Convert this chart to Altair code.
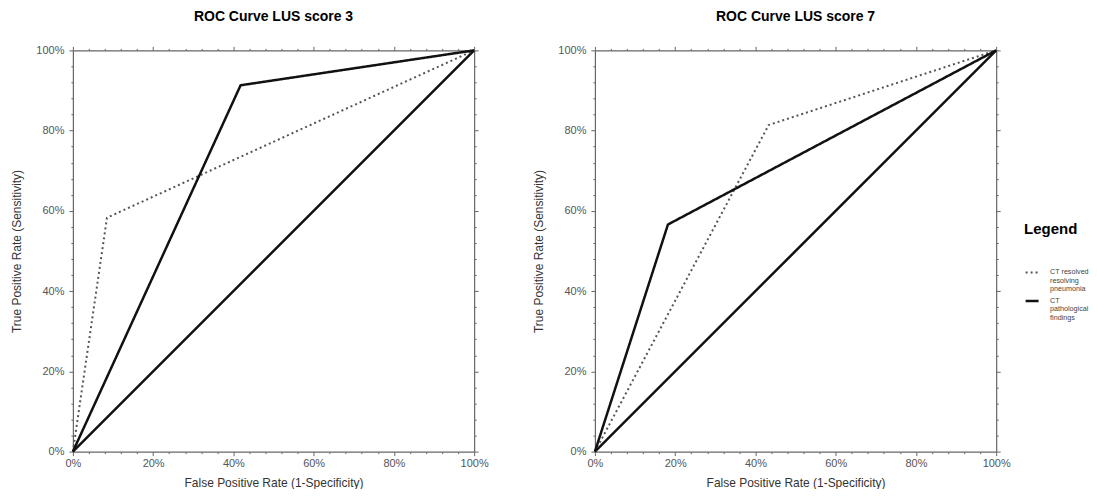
import altair as alt
import pandas as pd

# ---- data ----
panel_titles = ["ROC Curve LUS score 3", "ROC Curve LUS score 7"]
series_names = ["CT resolved resolving pneumonia", "CT pathological findings"]

# LUS score 3
fpr_ls3_resolved = [0.0, 0.085, 1.0]
tpr_ls3_resolved = [0.0, 0.583, 1.0]
fpr_ls3_path = [0.0, 0.418, 1.0]
tpr_ls3_path = [0.0, 0.913, 1.0]
# LUS score 7
fpr_ls7_resolved = [0.0, 0.433, 1.0]
tpr_ls7_resolved = [0.0, 0.814, 1.0]
fpr_ls7_path = [0.0, 0.182, 1.0]
tpr_ls7_path = [0.0, 0.566, 1.0]
# chance line
ref_fpr = [0.0, 1.0]
ref_tpr = [0.0, 1.0]

tick_values = [0.0, 0.04, 0.08, 0.12, 0.16, 0.2, 0.24, 0.28, 0.32, 0.36, 0.4,
               0.44, 0.48, 0.52, 0.56, 0.6, 0.64, 0.68, 0.72, 0.76, 0.8,
               0.84, 0.88, 0.92, 0.96, 1.0]


def roc_frame(fr, tr, fp, tp):
    rows = []
    for i, (a, b) in enumerate(zip(fr, tr)):
        rows.append({"fpr": a, "tpr": b, "series": series_names[0], "ord": i})
    for i, (a, b) in enumerate(zip(fp, tp)):
        rows.append({"fpr": a, "tpr": b, "series": series_names[1], "ord": i})
    return pd.DataFrame(rows)


ref_df = pd.DataFrame({"fpr": ref_fpr, "tpr": ref_tpr})

FONT = "Liberation Sans"
MAJOR = "abs(round(datum.value*5) - datum.value*5) < 0.001"
tick_size = {"condition": {"test": MAJOR, "value": 4}, "value": 2}


def panel(title, df):
    xs = alt.Scale(domain=[0, 1], nice=False)
    ys = alt.Scale(domain=[0, 1], nice=False)
    x_axis = alt.Axis(values=tick_values, format=".0%",
                      labelExpr=f"{MAJOR} ? datum.label : ''",
                      labelOverlap=False, labelFlush=False,
                      tickSize=tick_size, grid=False, labelPadding=2,
                      titlePadding=9,
                      title="False Positive Rate (1-Specificity)")
    y_axis = alt.Axis(values=tick_values, format=".0%",
                      labelExpr=f"{MAJOR} ? datum.label : ''",
                      labelOverlap=False, labelFlush=False,
                      tickSize=tick_size, grid=False, labelPadding=5,
                      titlePadding=12,
                      title="True Positive Rate (Sensitivity)")
    x_top = alt.Axis(values=tick_values, orient="top", labels=False,
                     tickSize=tick_size, grid=False, title=None)
    y_right = alt.Axis(values=tick_values, orient="right", labels=False,
                       tickSize=tick_size, grid=False, title=None)

    ref = alt.Chart(ref_df).mark_line(color="#111111", strokeWidth=2.5).encode(
        x=alt.X("fpr:Q", scale=xs, axis=x_axis),
        y=alt.Y("tpr:Q", scale=ys, axis=y_axis),
    )
    legend = alt.Legend(
        title="Legend", orient="none", legendX=953, legendY=172,
        symbolType="stroke", symbolSize=169, symbolStrokeWidth=2.5,
        labelExpr=("datum.label == 'CT resolved resolving pneumonia' ? "
                   "['CT resolved','resolving','pneumonia'] : "
                   "['CT','pathological','findings']"),
        labelFontSize=7.2, labelColor="#444444", labelOffset=10,
        titleFontSize=15, titleFontWeight="bold", titleColor="#000000",
        rowPadding=0, titlePadding=28,
    )
    color_enc = alt.Color("series:N",
                          scale=alt.Scale(domain=series_names, range=["#555555", "#111111"]),
                          legend=legend)
    dash_enc = alt.StrokeDash("series:N",
                              scale=alt.Scale(domain=series_names, range=[[2, 3], [1, 0]]),
                              legend=legend)
    width_enc = alt.StrokeWidth("series:N",
                                scale=alt.Scale(domain=series_names, range=[2, 2.5]),
                                legend=None)
    roc = alt.Chart(df).mark_line().encode(
        x=alt.X("fpr:Q", scale=xs, axis=x_top),
        y=alt.Y("tpr:Q", scale=ys, axis=y_right),
        color=color_enc,
        strokeDash=dash_enc,
        strokeWidth=width_enc,
        order="ord:Q",
        detail="series:N",
    )
    return alt.layer(ref, roc).resolve_axis(x="independent", y="independent").properties(
        width=402, height=402,
        title=alt.TitleParams(title, fontSize=14, fontWeight="bold", font=FONT,
                              color="#000000", offset=20),
    )


left = panel(panel_titles[0], roc_frame(fpr_ls3_resolved, tpr_ls3_resolved,
                                        fpr_ls3_path, tpr_ls3_path))
right = panel(panel_titles[1], roc_frame(fpr_ls7_resolved, tpr_ls7_resolved,
                                         fpr_ls7_path, tpr_ls7_path))

chart = alt.hconcat(left, right, spacing=43).configure(
    style={"guide-label": {"lineHeight": 8.5}}
).configure_axis(
    labelFont=FONT, titleFont=FONT, labelFontSize=11, titleFontSize=12,
    labelColor="#555555", titleColor="#333333", titleFontWeight="normal",
    domainColor="#666666", tickColor="#666666", domainWidth=1.2,
).configure_legend(labelFont=FONT, titleFont=FONT).configure_view(
    strokeWidth=0
).properties(padding={"left": 2, "top": 2, "right": 0, "bottom": 0})

chart.save("out.html", embed_options={"renderer": "svg", "actions": False})
